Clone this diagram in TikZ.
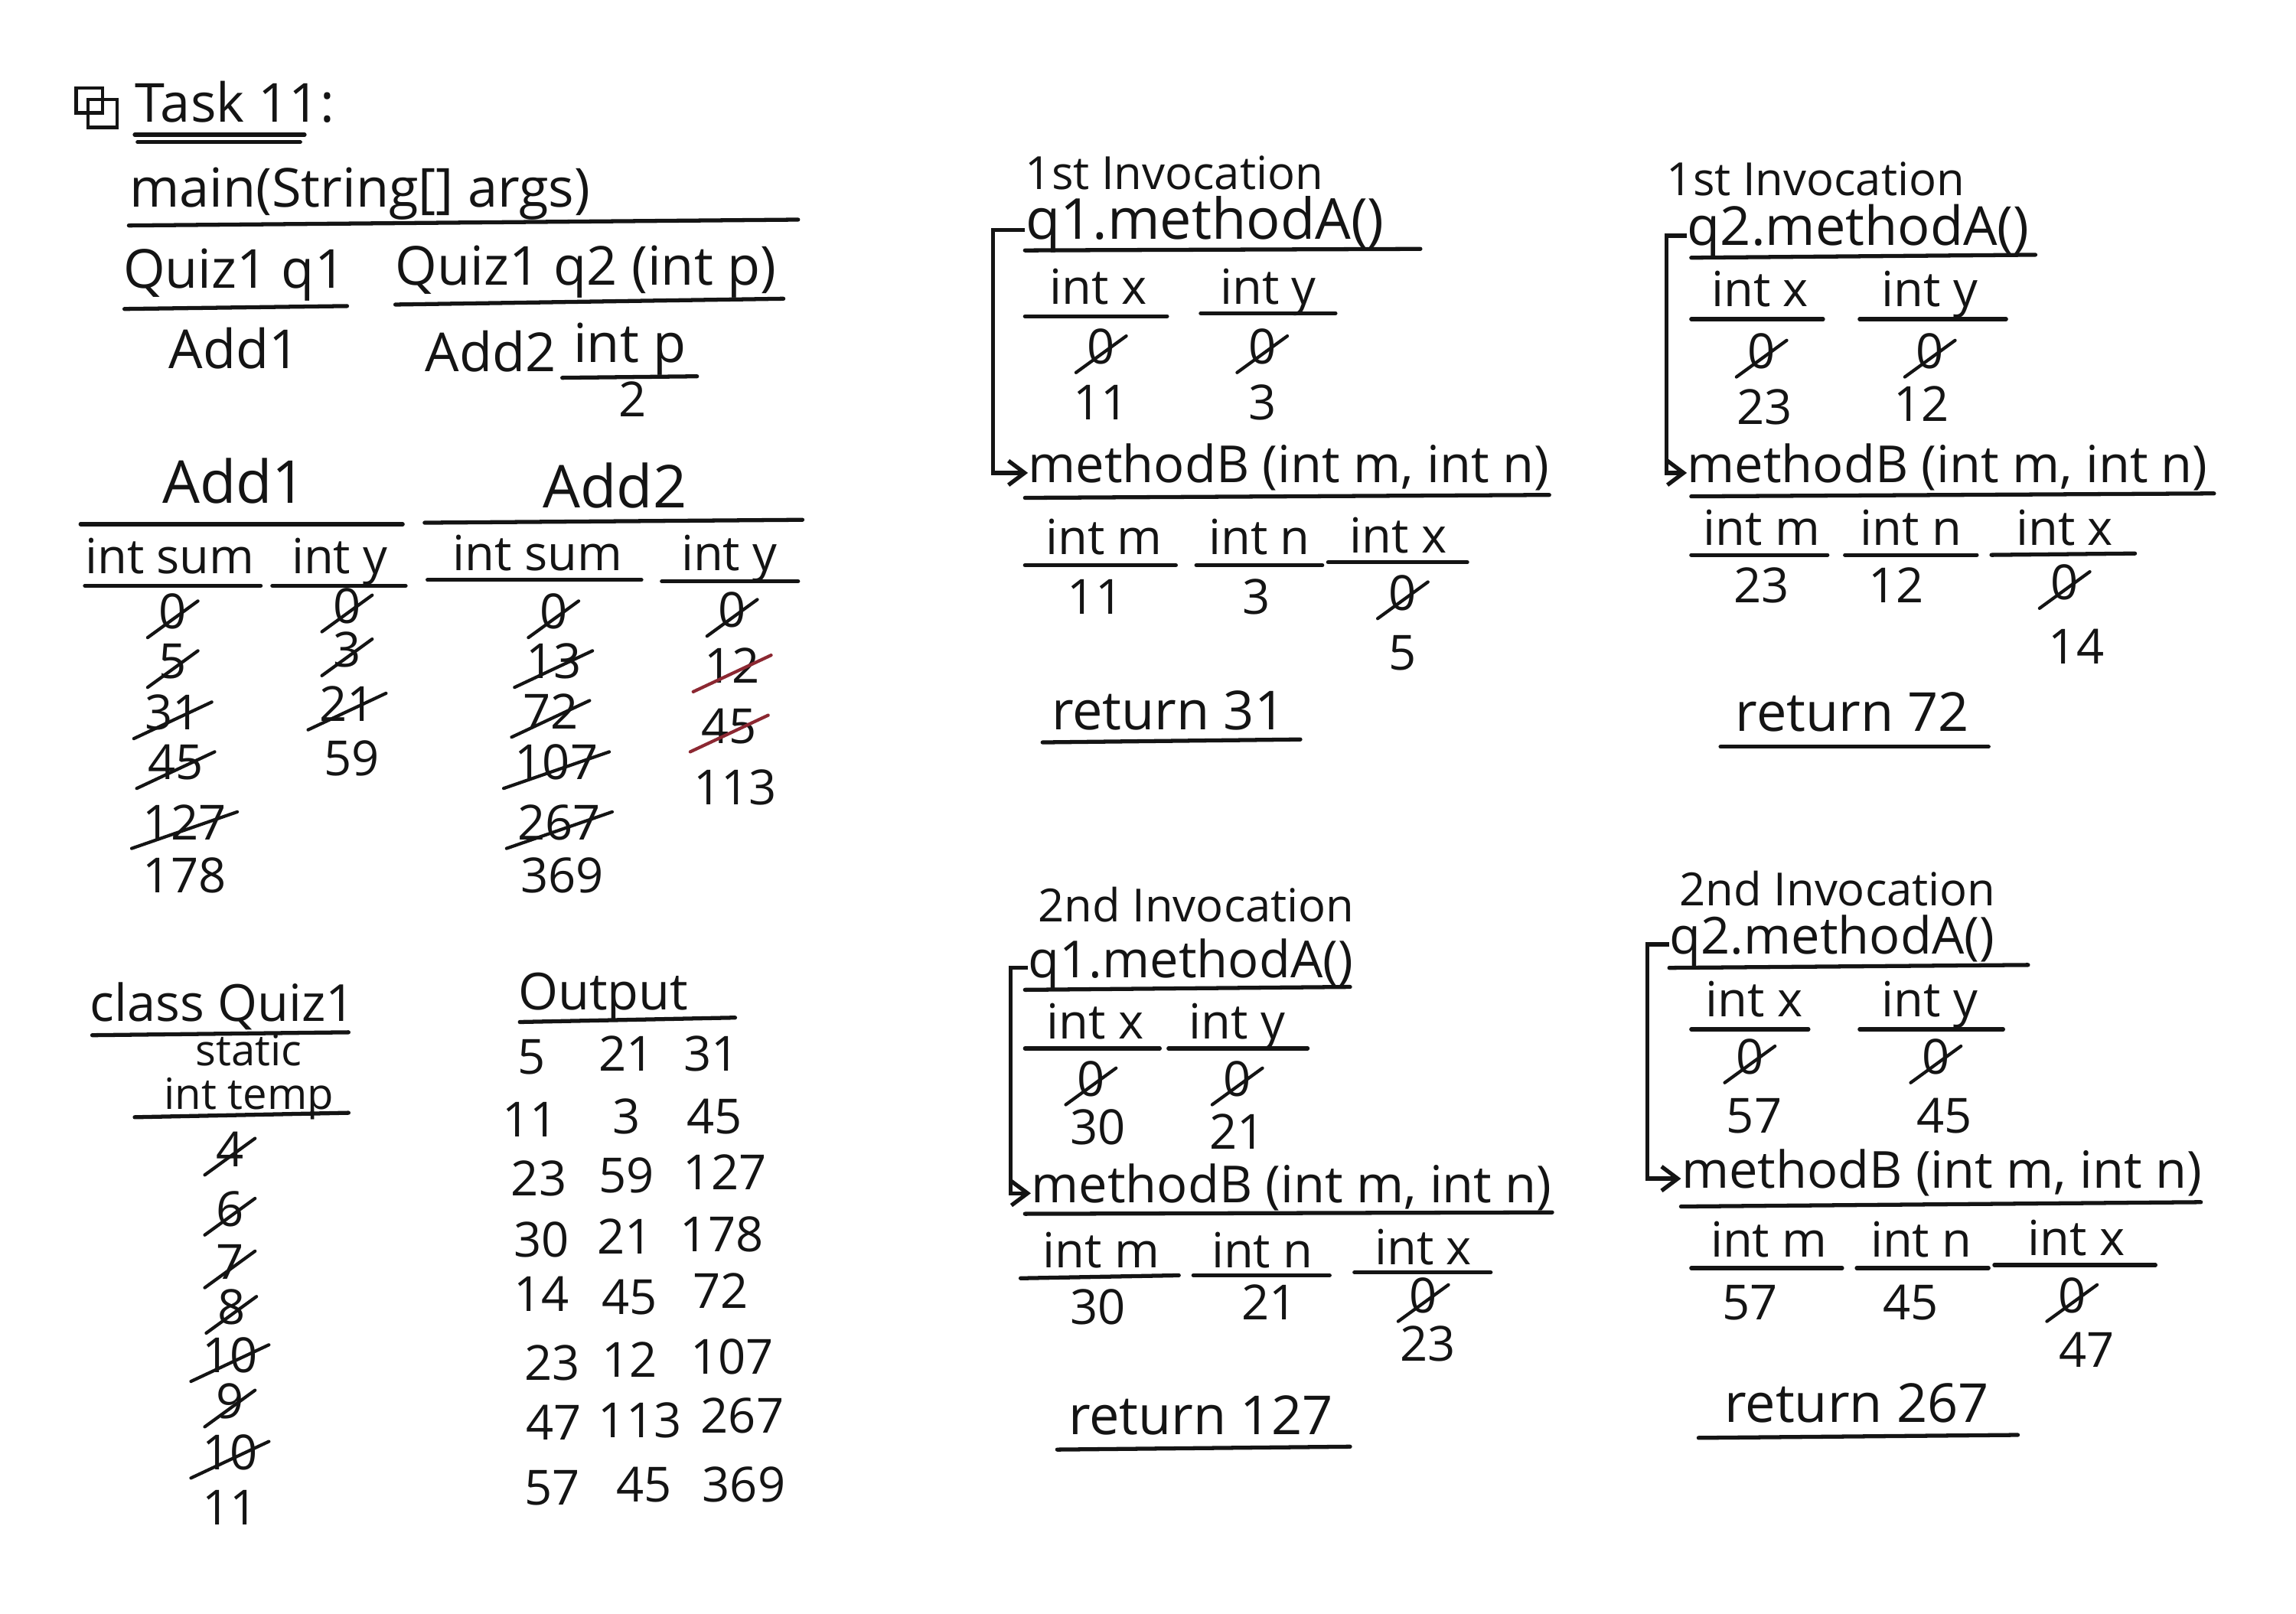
\documentclass[tikz,border=0pt]{standalone}
\usepackage{fontspec}
\setmainfont{Open Sans}
\usetikzlibrary{arrows.meta}
\definecolor{ink}{RGB}{20,20,20}
\definecolor{redink}{RGB}{140,40,50}
\newcounter{nn}
\tikzset{
  lbl/.style={inner sep=0pt,text=ink,text height=0.72em,text depth=0pt,yshift=-2.7pt,font=\fontsize{18}{20}\selectfont},
  big/.style={font=\fontsize{22}{24}\selectfont},
  small/.style={font=\fontsize{17}{19}\selectfont},
  meth/.style={font=\fontsize{19}{21}\selectfont},
  ul/.style={draw=ink,line width=1.5pt,line cap=round},
  strike/.style={draw=ink,line width=1.2pt,line cap=round},
  redstrike/.style={draw=redink,line width=1.2pt,line cap=round},
  conn/.style={draw=ink,line width=1.5pt,-{Straight Barb[length=6pt,width=9pt]}},
}
\newcommand\putT[4][]{\stepcounter{nn}\node[lbl,#1] (n\thenn) at (#2,#3) {#4};}
\newcommand\putS[4][strike]{\stepcounter{nn}\node[lbl] (n\thenn) at (#2,#3) {#4};
  \draw[#1] ([xshift=-4pt,yshift=-3pt]n\thenn.south west) -- ([xshift=4pt,yshift=3pt]n\thenn.north east);}
\begin{document}
\begin{tikzpicture}[x=0.01913cm,y=-0.01913cm]
\useasboundingbox (0,0) rectangle (1568,1102);
\fill[white] (0,0) rectangle (1568,1102);
% icon
\draw[ul,line width=1.3pt] (52,60) rectangle (70,77);
\draw[ul,line width=1.3pt] (60,68) rectangle (80,87);
% Task
\node[lbl,anchor=west,font=\fontsize{20}{22}\selectfont] (task) at (92,72) {Task 11:};
\draw[ul] (92,92) -- (208,92);
\draw[ul] (94,97) -- (205,97);
% main
\node[lbl,anchor=west,font=\fontsize{20}{22}\selectfont] (main) at (88,130) {main(String[] args)};
\draw[ul] (88,154) -- (545,150);
\node[lbl,font=\fontsize{20}{22}\selectfont] (q1) at (160,185) {Quiz1 q1};
\draw[ul] (85,211) -- (237,209);
\node[lbl,font=\fontsize{20}{22}\selectfont] (q2) at (400,183) {Quiz1 q2 (int p)};
\draw[ul] (270,208) -- (535,204);
\node[lbl,font=\fontsize{20}{22}\selectfont] (a1) at (160,240) {Add1};
\node[lbl,font=\fontsize{20}{22}\selectfont] (a2) at (335,242) {Add2};
\node[lbl,font=\fontsize{20}{22}\selectfont] (ip) at (430,236) {int p};
\draw[ul] (384,258) -- (476,257);
\putT{432}{273}{2}
% Add1 table
\node[lbl,big] (add1) at (160,332) {Add1};
\draw[ul] (55,358) -- (275,358);
\putT{116}{380}{int sum}
\draw[ul] (58,400) -- (178,400);
\putT{232}{380}{int y}
\draw[ul] (186,400) -- (277,400);
\putS{118}{418}{0}
\putS{118}{452}{5}
\putS{118}{487}{31}
\putS{120}{521}{45}
\putS{126}{562}{127}
\putT{126}{598}{178}
\putS{237}{414}{0}
\putS{237}{444}{3}
\putS{237}{481}{21}
\putT{240}{518}{59}
% Add2 table
\node[lbl,big] (add2) at (420,335) {Add2};
\draw[ul] (290,357) -- (548,355);
\putT{367}{378}{int sum}
\draw[ul] (292,396) -- (438,396);
\putT{498}{378}{int y}
\draw[ul] (452,397) -- (545,397);
\putS{378}{418}{0}
\putS{378}{452}{13}
\putS{376}{486}{72}
\putS{380}{521}{107}
\putS{382}{562}{267}
\putT{384}{598}{369}
\putS{500}{417}{0}
\putS[redstrike]{500}{455}{12}
\putS[redstrike]{498}{496}{45}
\putT{502}{538}{113}
% class Quiz1
\node[lbl,font=\fontsize{19}{21}\selectfont] (cls) at (152,686) {class Quiz1};
\draw[ul] (63,707) -- (238,705);
\putT[font=\fontsize{16}{18}\selectfont]{170}{716}{static}
\putT[font=\fontsize{16}{18}\selectfont]{170}{746}{int temp}
\draw[ul] (92,763) -- (238,760);
\putS{157}{785}{4}
\putS{157}{826}{6}
\putS{157}{862}{7}
\putS{158}{893}{8}
\putS{157}{926}{10}
\putS{157}{957}{9}
\putS{157}{992}{10}
\putT{157}{1030}{11}
% Output
\node[lbl,font=\fontsize{19}{21}\selectfont] (out) at (412,678) {Output};
\draw[ul] (355,698) -- (502,695);
\putT{363}{722}{5}   \putT{428}{720}{21}  \putT{486}{720}{31}
\putT{362}{765}{11}  \putT{428}{763}{3}   \putT{488}{763}{45}
\putT{368}{805}{23}  \putT{428}{803}{59}  \putT{495}{801}{127}
\putT{370}{847}{30}  \putT{427}{845}{21}  \putT{493}{843}{178}
\putT{370}{884}{14}  \putT{430}{886}{45}  \putT{492}{882}{72}
\putT{377}{931}{23}  \putT{430}{929}{12}  \putT{500}{927}{107}
\putT{378}{972}{47}  \putT{437}{970}{113} \putT{507}{967}{267}
\putT{377}{1016}{57} \putT{440}{1014}{45} \putT{508}{1014}{369}
% ---------- Panel 1 ----------
\node[lbl,small] (inv1) at (802,118) {1st Invocation};
\node[lbl,anchor=west,font=\fontsize{21}{23}\selectfont] (qA1) at (700,152) {q1.methodA()};
\draw[ul] (700,171) -- (970,170);
\putT{750}{196}{int x} \draw[ul] (700,216) -- (797,216);
\putT{866}{196}{int y} \draw[ul] (820,214) -- (912,214);
\putS{752}{237}{0} \putT{752}{275}{11}
\putS{862}{237}{0} \putT{862}{275}{3}
\node[lbl,anchor=west,meth] (qB1) at (702,318) {methodB (int m, int n)};
\draw[ul] (700,340) -- (1058,338);
\draw[conn] (qA1.west) -- ++(-22,0) |- (qB1.west);
\putT{754}{367}{int m} \draw[ul] (700,386) -- (803,386);
\putT{860}{367}{int n} \draw[ul] (817,386) -- (903,386);
\putT{955}{366}{int x} \draw[ul] (907,384) -- (1002,384);
\putT{748}{408}{11} \putT{858}{408}{3}
\putS{958}{405}{0} \putT{958}{446}{5}
\putT[font=\fontsize{20}{22}\selectfont]{798}{487}{return 31}
\draw[ul] (712,507) -- (888,505);
% ---------- Panel 2 ----------
\node[lbl,small] (inv2) at (1240,122) {1st Invocation};
\node[lbl,anchor=west,font=\fontsize{20}{22}\selectfont] (qA2) at (1152,156) {q2.methodA()};
\draw[ul] (1155,176) -- (1390,174);
\putT{1202}{198}{int x} \draw[ul] (1155,218) -- (1245,218);
\putT{1318}{198}{int y} \draw[ul] (1270,218) -- (1370,218);
\putS{1203}{240}{0} \putT{1205}{278}{23}
\putS{1318}{240}{0} \putT{1312}{276}{12}
\node[lbl,anchor=west,meth] (qB2) at (1152,318) {methodB (int m, int n)};
\draw[ul] (1155,339) -- (1512,337);
\draw[conn] (qA2.west) -- ++(-14,0) |- (qB2.west);
\putT{1203}{361}{int m} \draw[ul] (1155,379) -- (1248,379);
\putT{1305}{361}{int n} \draw[ul] (1260,379) -- (1350,379);
\putT{1410}{361}{int x} \draw[ul] (1360,379) -- (1458,378);
\putT{1203}{400}{23} \putT{1295}{400}{12}
\putS{1410}{398}{0} \putT{1418}{442}{14}
\putT[font=\fontsize{20}{22}\selectfont]{1265}{488}{return 72}
\draw[ul] (1175,510) -- (1358,510);
% ---------- Panel 3 ----------
\node[lbl,small] (inv3) at (817,618) {2nd Invocation};
\node[lbl,anchor=west,meth] (qA3) at (702,656) {q1.methodA()};
\draw[ul] (700,676) -- (922,674);
\putT{748}{698}{int x} \draw[ul] (700,716) -- (792,716);
\putT{845}{698}{int y} \draw[ul] (798,716) -- (893,716);
\putS{745}{737}{0} \putT{750}{770}{30}
\putS{845}{737}{0} \putT{845}{773}{21}
\node[lbl,anchor=west,meth] (qB3) at (704,810) {methodB (int m, int n)};
\draw[ul] (700,829) -- (1060,828);
\draw[conn] (qA3.west) -- ++(-12,0) |- (qB3.west);
\putT{752}{854}{int m} \draw[ul] (697,873) -- (805,871);
\putT{862}{854}{int n} \draw[ul] (815,871) -- (908,871);
\putT{972}{852}{int x} \draw[ul] (925,869) -- (1018,869);
\putT{750}{893}{30} \putT{867}{890}{21}
\putS{972}{885}{0} \putT{975}{918}{23}
\putT[font=\fontsize{20}{22}\selectfont]{820}{968}{return 127}
\draw[ul] (722,990) -- (922,988);
% ---------- Panel 4 ----------
\node[lbl,small] (inv4) at (1255,607) {2nd Invocation};
\node[lbl,anchor=west,meth] (qA4) at (1140,640) {q2.methodA()};
\draw[ul] (1140,661) -- (1385,659);
\putT{1198}{683}{int x} \draw[ul] (1155,703) -- (1235,703);
\putT{1318}{683}{int y} \draw[ul] (1270,703) -- (1368,703);
\putS{1195}{722}{0} \putT{1198}{762}{57}
\putS{1322}{722}{0} \putT{1328}{762}{45}
\node[lbl,anchor=west,meth] (qB4) at (1148,800) {methodB (int m, int n)};
\draw[ul] (1148,824) -- (1503,821);
\draw[conn] (qA4.west) -- ++(-15,0) |- (qB4.west);
\putT{1208}{847}{int m} \draw[ul] (1155,866) -- (1258,866);
\putT{1312}{847}{int n} \draw[ul] (1268,866) -- (1358,866);
\putT{1418}{846}{int x} \draw[ul] (1362,864) -- (1472,864);
\putT{1195}{890}{57} \putT{1305}{890}{45}
\putS{1415}{885}{0} \putT{1425}{922}{47}
\putT[font=\fontsize{20}{22}\selectfont]{1268}{960}{return 267}
\draw[ul] (1160,982) -- (1378,980);
\end{tikzpicture}
\end{document}
